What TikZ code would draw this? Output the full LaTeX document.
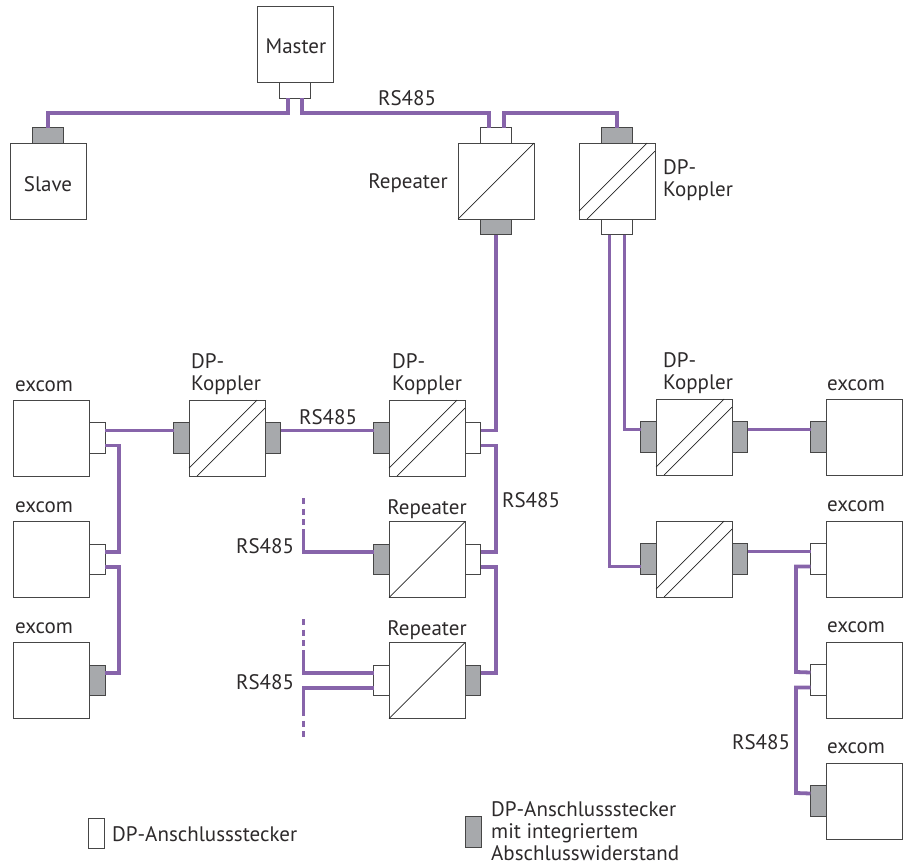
\documentclass[tikz,border=0pt]{standalone}
\usepackage{fontspec}
\setmainfont{PT Sans}
\usetikzlibrary{positioning}
\definecolor{buscol}{RGB}{135,100,170}
\definecolor{plugcol}{RGB}{167,169,172}
\definecolor{edgecol}{RGB}{70,70,70}
\definecolor{textcol}{RGB}{45,42,43}
\tikzset{
  unit/.style={draw=edgecol, line width=0.9pt, fill=white, rectangle, inner sep=0pt, outer sep=0pt, minimum width=76pt, minimum height=76pt},
  plugh/.style={draw=edgecol, line width=0.9pt, fill=white, rectangle, inner sep=0pt, outer sep=0pt, minimum width=30.5pt, minimum height=15.5pt},
  plugv/.style={draw=edgecol, line width=0.9pt, fill=white, rectangle, inner sep=0pt, outer sep=0pt, minimum width=15.5pt, minimum height=30.5pt},
  term/.style={fill=plugcol},
  bus/.style={draw=buscol, line width=3.8pt},
  stub/.style={bus, dash pattern=on 6pt off 4.6pt},
  diag/.style={draw=black!85, line width=0.7pt},
  tag/.style={text=textcol, inner sep=0pt, font=\fontsize{21}{22}\selectfont},
  tagl/.style={tag, align=left, anchor=west}
}
\begin{document}
\begin{tikzpicture}[x=1pt,y=-1pt]
    \useasboundingbox (0,0) rectangle (905,865);
    % top row
    \node[unit] (master) at (295,44.5) {};
    \node[plugh, below=0pt of master] (masterp) {};
    \node[unit] (slave) at (48,181) {};
    \node[plugh, term, above=0pt of slave] (slavep) {};
    \node[unit] (rep0) at (496,181) {};
    \node[plugh, above=0pt of rep0] (rep0a) {};
    \node[plugh, term, below=0pt of rep0] (rep0b) {};
    \node[unit] (dp0) at (617,181) {};
    \node[plugh, term, above=0pt of dp0] (dp0a) {};
    \node[plugh, below=0pt of dp0] (dp0b) {};
    % left group
    \node[unit] (exl1) at (51.5,438) {};
    \node[plugv, right=0pt of exl1] (exl1p) {};
    \node[unit] (exl2) at (51.5,559.5) {};
    \node[plugv, right=0pt of exl2] (exl2p) {};
    \node[unit] (exl3) at (51.5,680.5) {};
    \node[plugv, term, right=0pt of exl3] (exl3p) {};
    \node[unit] (dpl) at (227,438) {};
    \node[plugv, term, left=0pt of dpl] (dpla) {};
    \node[plugv, term, right=0pt of dpl] (dplb) {};
    % middle group
    \node[unit] (dpm) at (427,438) {};
    \node[plugv, term, left=0pt of dpm] (dpma) {};
    \node[plugv, right=0pt of dpm] (dpmb) {};
    \node[unit] (rep1) at (427,559.5) {};
    \node[plugv, term, left=0pt of rep1] (rep1a) {};
    \node[plugv, right=0pt of rep1] (rep1b) {};
    \node[unit] (rep2) at (427,680.5) {};
    \node[plugv, left=0pt of rep2] (rep2a) {};
    \node[plugv, term, right=0pt of rep2] (rep2b) {};
    % right group
    \node[unit] (dpr1) at (694,437) {};
    \node[plugv, term, left=0pt of dpr1] (dpr1a) {};
    \node[plugv, term, right=0pt of dpr1] (dpr1b) {};
    \node[unit] (dpr2) at (694,559) {};
    \node[plugv, term, left=0pt of dpr2] (dpr2a) {};
    \node[plugv, term, right=0pt of dpr2] (dpr2b) {};
    \node[unit] (exr1) at (864,437) {};
    \node[plugv, term, left=0pt of exr1] (exr1p) {};
    \node[unit] (exr2) at (864,559) {};
    \node[plugv, left=0pt of exr2] (exr2p) {};
    \node[unit] (exr3) at (864,680) {};
    \node[plugv, left=0pt of exr3] (exr3p) {};
    \node[unit] (exr4) at (864,801) {};
    \node[plugv, term, left=0pt of exr4] (exr4p) {};
    % diagonals
    \draw[diag] (rep0.south west) -- (rep0.north east);
    \draw[diag] (rep1.south west) -- (rep1.north east);
    \draw[diag] (rep2.south west) -- (rep2.north east);
    \draw[diag] ([yshift=8pt]dp0.south west) -- ([xshift=-8pt]dp0.north east);
    \draw[diag] ([xshift=8pt]dp0.south west) -- ([yshift=-8pt]dp0.north east);
    \draw[diag] ([yshift=8pt]dpl.south west) -- ([xshift=-8pt]dpl.north east);
    \draw[diag] ([xshift=8pt]dpl.south west) -- ([yshift=-8pt]dpl.north east);
    \draw[diag] ([yshift=8pt]dpm.south west) -- ([xshift=-8pt]dpm.north east);
    \draw[diag] ([xshift=8pt]dpm.south west) -- ([yshift=-8pt]dpm.north east);
    \draw[diag] ([yshift=8pt]dpr1.south west) -- ([xshift=-8pt]dpr1.north east);
    \draw[diag] ([xshift=8pt]dpr1.south west) -- ([yshift=-8pt]dpr1.north east);
    \draw[diag] ([yshift=8pt]dpr2.south west) -- ([xshift=-8pt]dpr2.north east);
    \draw[diag] ([xshift=8pt]dpr2.south west) -- ([yshift=-8pt]dpr2.north east);
    % bus lines
    \coordinate (topl) at (48,113);
    \coordinate (topm) at (489,113);
    \coordinate (topr) at (504,113);
    \coordinate (topd) at (617,113);
    \draw[bus] ([xshift=-7pt]masterp.south) |- (topl) -- (slavep.north);
    \draw[bus] ([xshift=7pt]masterp.south) |- (topm) -- ([xshift=-7pt]rep0a.north);
    \draw[bus] ([xshift=8pt]rep0a.north) |- (topd) -- (dp0a.north);
    \draw[bus] (rep0b.south) |- ([yshift=7.5pt]dpmb.east);
    \draw[bus] ([xshift=-7.5pt]dp0b.south) |- ([yshift=-7.5pt]dpr2a.west);
    \draw[bus] ([xshift=7.5pt]dp0b.south) |- ([yshift=7.5pt]dpr1a.west);
    \draw[bus] ([yshift=7.5pt]exl1p.east) -- ([yshift=7.5pt]dpla.west);
    \draw[bus] ([yshift=7.5pt]dplb.east) -- ([yshift=7.5pt]dpma.west);
    \draw[bus] ([yshift=-7.5pt]exl1p.east) -| (119,552) -- ([yshift=7.5pt]exl2p.east);
    \draw[bus] ([yshift=-7.5pt]exl2p.east) -| (119,673) -- ([yshift=7.5pt]exl3p.east);
    \draw[bus] ([yshift=-7.5pt]dpmb.east) -| (496,552) -- ([yshift=7.5pt]rep1b.east);
    \draw[bus] ([yshift=-7.5pt]rep1b.east) -| (496,673) -- ([yshift=7.5pt]rep2b.east);
    \draw[bus] ([yshift=7.5pt]dpr1b.east) -- ([yshift=7.5pt]exr1p.west);
    \draw[bus] ([yshift=7.5pt]dpr2b.east) -- ([yshift=7.5pt]exr2p.west);
    \draw[bus] ([yshift=-7.5pt]exr2p.west) -| (796,672) -- ([yshift=7.5pt]exr3p.west);
    \draw[bus] ([yshift=-7.5pt]exr3p.west) -| (796,793) -- ([yshift=7.5pt]exr4p.west);
    % open ends
    \coordinate (end1a) at (303.5,529);
    \coordinate (end1b) at (303.5,498);
    \coordinate (end2a) at (303.5,650);
    \coordinate (end2b) at (303.5,619);
    \coordinate (end3a) at (303.5,710);
    \coordinate (end3b) at (303.5,738);
    \draw[bus] ([yshift=7.5pt]rep1a.west) -| (end1a);
    \draw[stub] (end1b) -- (end1a);
    \draw[bus] ([yshift=7.5pt]rep2a.west) -| (end2a);
    \draw[stub] (end2b) -- (end2a);
    \draw[bus] ([yshift=-7.5pt]rep2a.west) -| (end3a);
    \draw[stub] (end3a) -- (end3b);
    % labels
    \node[tag] (lmaster) at (296,46) {Master};
    \node[tag] (lslave) at (48,184) {Slave};
    \node[tag] (lrs1) at (407,98.5) {RS485};
    \node[tag] (lrep0) at (408,183.5) {Repeater};
    \node[tagl] (ldp0) at (663,180) {DP-\\Koppler};
    \node[tag] (lex1) at (44,386) {excom};
    \node[tag] (lex2) at (44,507) {excom};
    \node[tag] (lex3) at (44,628) {excom};
    \node[tagl] (ldpl) at (191,374) {DP-\\Koppler};
    \node[tagl] (ldpm) at (392,374) {DP-\\Koppler};
    \node[tag] (lrs2) at (328,417) {RS485};
    \node[tag] (lrs3) at (531,500) {RS485};
    \node[tag] (lrep1) at (427,509) {Repeater};
    \node[tag] (lrs4) at (265,546) {RS485};
    \node[tag] (lrep2) at (427,630) {Repeater};
    \node[tag] (lrs5) at (265,682) {RS485};
    \node[tagl] (ldpr) at (663,373) {DP-\\Koppler};
    \node[tag] (lex4) at (856,385) {excom};
    \node[tag] (lex5) at (856,506) {excom};
    \node[tag] (lex6) at (856,627) {excom};
    \node[tag] (lex7) at (856,748) {excom};
    \node[tag] (lrs6) at (761,742) {RS485};
    % legend
    \node[plugv] (keya) at (96.5,833.5) {};
    \node[plugv, term] (keyb) at (473.5,832) {};
    \node[tagl] (lkeya) at (112,834) {DP-Anschlussstecker};
    \node[tagl] (lkeyb) at (491,831) {DP-Anschlussstecker\\mit integriertem\\Abschlusswiderstand};
\end{tikzpicture}
\end{document}
